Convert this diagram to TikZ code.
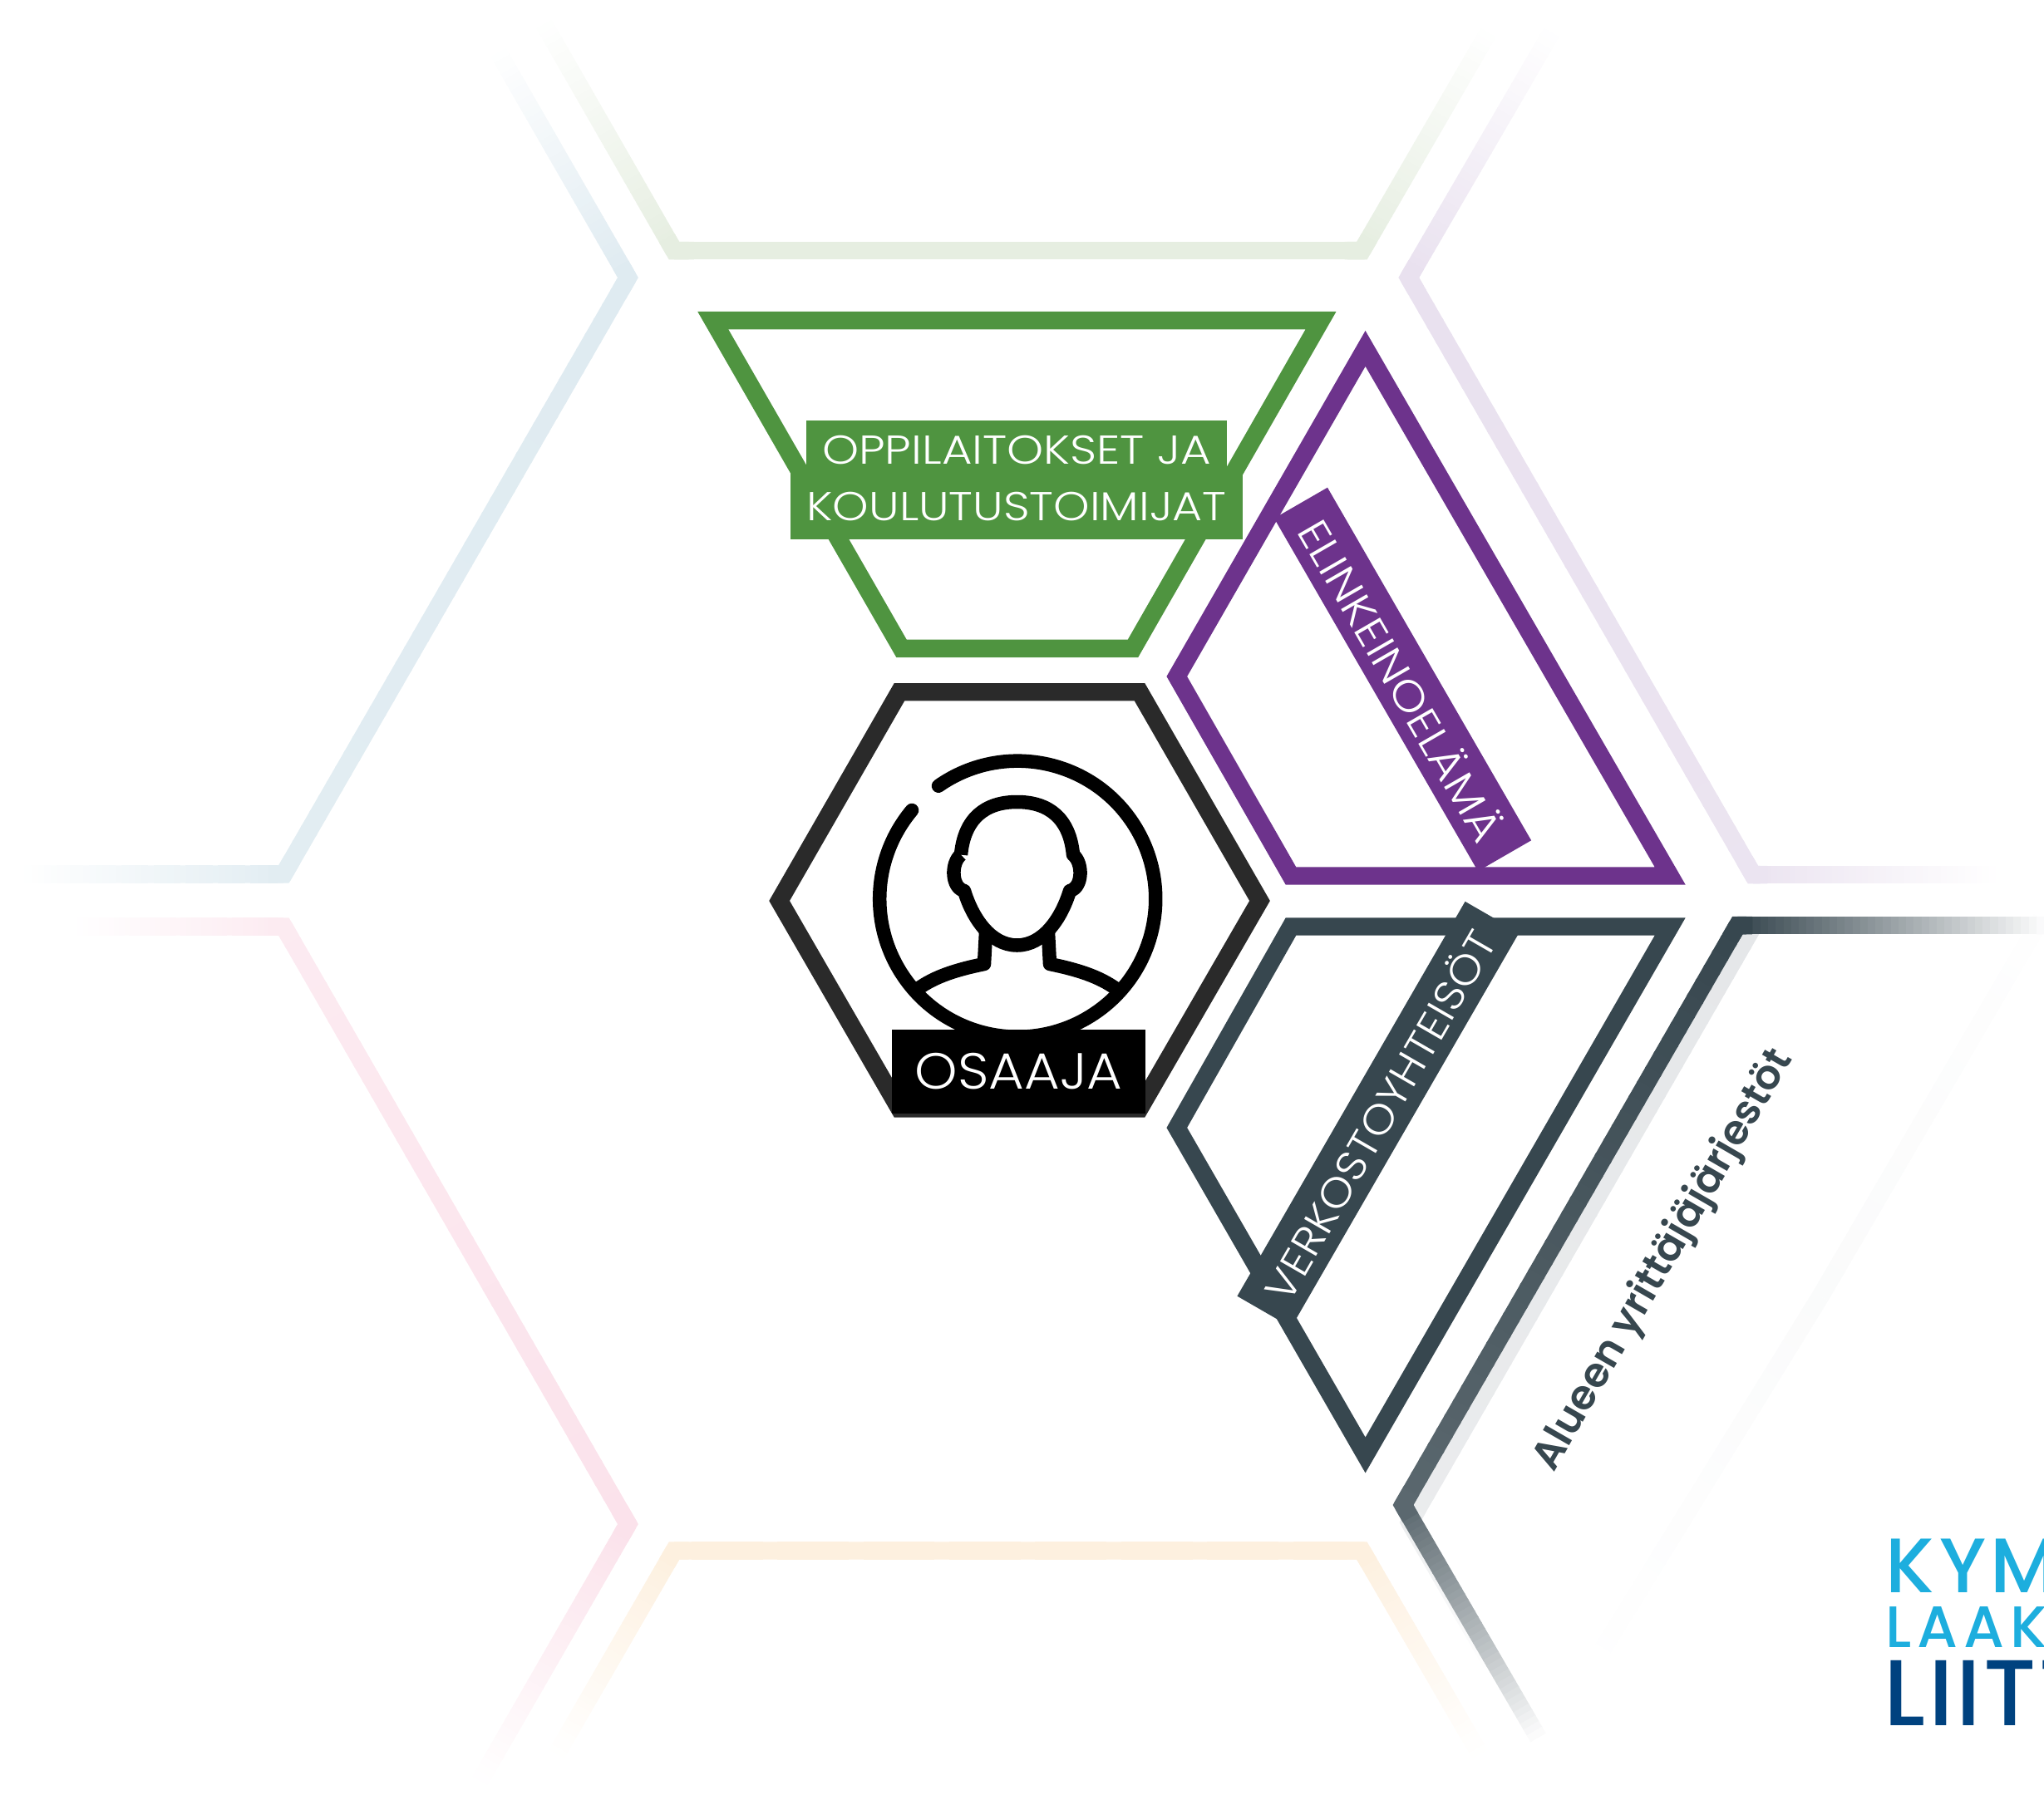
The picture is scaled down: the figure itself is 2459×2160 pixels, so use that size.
\documentclass[tikz,border=0pt]{standalone}
\usepackage{fontspec}
\setmainfont{Poppins}
\newfontfamily\lite{Poppins Light}
\newfontfamily\semi{Poppins SemiBold}
\newfontfamily\medi{Poppins Medium}
\usetikzlibrary{calc}

\definecolor{grn}{HTML}{4F9440}
\definecolor{prp}{HTML}{6D338C}
\definecolor{slt}{HTML}{37474F}
\definecolor{blk}{HTML}{2A2A2A}
\definecolor{pblu}{HTML}{DFEBF1}
\definecolor{ppnk}{HTML}{FBE2EB}
\definecolor{pgrn}{HTML}{E6EEE1}
\definecolor{pprp}{HTML}{E9E1EF}
\definecolor{pyel}{HTML}{FDF0DF}
\definecolor{pgry}{HTML}{E5E7E9}
\definecolor{sky}{HTML}{1DAEDE}
\definecolor{navy}{HTML}{00427F}

\tikzset{
    band/.style={line width=0.214cm,miter limit=10},
    icon/.style={line width=0.165cm,line join=round},
    lab/.style={inner sep=0,text=white,align=center},
    logo/.style={inner sep=0,anchor=base west},
}

\newcommand{\fadeline}[5]{
    \foreach \i in {0,...,39} {
        \pgfmathsetmacro\p{#4+(#5-#4)*\i/40}
        \pgfmathsetmacro\a{\i/40}
        \pgfmathsetmacro\b{(\i+1.15)/40}
        \draw [band,draw=#3!\p!white] ($(#1)!\a!(#2)$) -- ($(#1)!\b!(#2)$);
    }
}
\newcommand{\corner}[5]{
    \draw [band,draw=#4!#5!white] ($(#2)!5pt!(#1)$) -- (#2) -- ($(#2)!5pt!(#3)$);
}

\begin{document}
\begin{tikzpicture}[x=0.01cm,y=-0.01cm]

\useasboundingbox (0,0) rectangle (2459,2160);

\coordinate (b1) at (600,64);
\coordinate (b2) at (755.5,334);
\coordinate (b3) at (341.4,1052);
\coordinate (b4) at (30,1052);

\coordinate (k1) at (94,1115);
\coordinate (k2) at (341.4,1115);
\coordinate (k3) at (755.5,1834);
\coordinate (k4) at (578,2142);

\coordinate (g1) at (655,30);
\coordinate (g2) at (811,301.7);
\coordinate (g3) at (1638.4,301.7);
\coordinate (g4) at (1790,40);

\coordinate (y1) at (670,2110);
\coordinate (y2) at (811,1866);
\coordinate (y3) at (1638.4,1866);
\coordinate (y4) at (1780,2110);

\coordinate (p1) at (1866,40);
\coordinate (p2) at (1694.8,334);
\coordinate (p3) at (2108.9,1052.6);
\coordinate (p4) at (2400,1052.6);

\coordinate (s1) at (2459,1113.6);
\coordinate (s2) at (2090.3,1113.6);
\coordinate (s3) at (1688,1811);
\coordinate (s4) at (1850,2090);

\coordinate (h1) at (2108,1117);
\coordinate (h2) at (1696,1832);
\coordinate (h3) at (1796,2005);

\coordinate (f1) at (2455,1107);
\coordinate (f2) at (2190,1560);
\coordinate (f3) at (1900,2030);

\fadeline{b2}{b1}{pblu}{100}{0}
\fadeline{b2}{b3}{pblu}{100}{90}
\fadeline{b3}{b4}{pblu}{90}{0}
\corner{b1}{b2}{b3}{pblu}{100}
\corner{b2}{b3}{b4}{pblu}{90}

\fadeline{k2}{k1}{ppnk}{70}{0}
\fadeline{k2}{k3}{ppnk}{70}{100}
\fadeline{k3}{k4}{ppnk}{100}{0}
\corner{k1}{k2}{k3}{ppnk}{70}
\corner{k2}{k3}{k4}{ppnk}{100}

\fadeline{g2}{g1}{pgrn}{100}{0}
\fadeline{g2}{g3}{pgrn}{100}{100}
\fadeline{g3}{g4}{pgrn}{100}{0}
\corner{g1}{g2}{g3}{pgrn}{100}
\corner{g2}{g3}{g4}{pgrn}{100}

\fadeline{y2}{y1}{pyel}{100}{0}
\fadeline{y2}{y3}{pyel}{100}{100}
\fadeline{y3}{y4}{pyel}{100}{0}
\corner{y1}{y2}{y3}{pyel}{100}
\corner{y2}{y3}{y4}{pyel}{100}

\fadeline{p2}{p1}{pprp}{100}{0}
\fadeline{p2}{p3}{pprp}{100}{90}
\fadeline{p3}{p4}{pprp}{90}{0}
\corner{p1}{p2}{p3}{pprp}{100}
\corner{p2}{p3}{p4}{pprp}{90}

\fadeline{f2}{f1}{pgry}{18}{4}
\fadeline{f2}{f3}{pgry}{18}{0}

\fadeline{h1}{h2}{pgry}{100}{80}
\fadeline{h2}{h3}{pgry}{70}{0}
\corner{h1}{h2}{h3}{pgry}{75}

\fadeline{s2}{s1}{slt}{100}{0}
\fadeline{s2}{s3}{slt}{100}{82}
\fadeline{s3}{s4}{slt}{82}{0}
\corner{s1}{s2}{s3}{slt}{100}
\corner{s2}{s3}{s4}{slt}{82}

\draw [band,draw=grn] (857.8,385.7) -- (1589,385.7) -- (1363,780.3) -- (1084.5,780.3) -- cycle;

\draw [band,draw=prp] (1642.6,419.4) -- (2009.2,1054) -- (1553,1054) -- (1415.8,814) -- cycle;

\draw [band,draw=slt] (1553,1115) -- (2009.2,1115) -- (1642.6,1751) -- (1415.8,1357) -- cycle;

\draw [band,draw=blk] (1082,832.7) -- (1371,832.7) -- (1515.5,1084) -- (1371,1334) -- (1082,1334) -- (937.6,1084) -- cycle;

\draw [icon,line cap=round] (1129,945.7) arc (-125:220:166);

\draw [icon] (1156,1028.6)
    .. controls (1160,985) and (1185,965) .. (1223.5,965)
    .. controls (1262,965) and (1287,985) .. (1291,1028.6)
    .. controls (1303,1038) and (1303,1068) .. (1287,1072)
    .. controls (1277,1105) and (1255,1137.5) .. (1223.5,1137.5)
    .. controls (1192,1137.5) and (1170,1105) .. (1160,1072)
    .. controls (1144,1068) and (1144,1038) .. (1156,1028.6)
;

\draw [icon] (1186,1122) -- (1184,1160) .. controls (1150,1167) and (1125,1175) .. (1104,1190);
\draw [icon] (1261,1122) -- (1263,1160) .. controls (1297,1167) and (1322,1175) .. (1343,1190);

\node [lab,fill=black,minimum width=3.05cm,minimum height=1.015cm] (osaaja) at (1225.5,1289.3) {\lite\addfontfeature{FakeStretch=1.07}\fontsize{17.4}{20}\selectfont OSAAJA};

\node [fill=grn,inner sep=0,minimum width=5.06cm,minimum height=0.70cm] (opp) at (1223,540.7) {};
\node [lab,fill=grn,minimum width=5.44cm,minimum height=0.79cm] (koul) at (1223,609.5) {\lite\addfontfeature{FakeStretch=1.14}\fontsize{13.8}{16}\selectfont KOULUTUSTOIMIJAT};
\node [lab] (oppt) at (1223,542) {\lite\addfontfeature{FakeStretch=1.155}\fontsize{13.8}{16}\selectfont OPPILAITOKSET JA};

\node [lab,fill=prp,rotate=-60,minimum width=4.9cm,minimum height=0.74cm] (elin) at (1687.5,817.5) {\lite\addfontfeature{FakeStretch=1.115}\fontsize{14.5}{17}\selectfont ELINKEINOELÄMÄ};

\node [lab,fill=slt,rotate=60,minimum width=5.48cm,minimum height=0.75cm] (verk) at (1658,1341) {\lite\addfontfeature{FakeStretch=1.08}\fontsize{14.2}{17}\selectfont VERKOSTOYHTEISÖT};

\node [inner sep=0,rotate=60,text=slt] (alue) at (2002,1517) {\semi\fontsize{14}{16}\selectfont Alueen yrittäjäjärjestöt};

\node [logo,text=sky] (kym) at (2268,1916) {\medi\addfontfeature{LetterSpace=6}\fontsize{26.4}{30}\selectfont KYM};
\node [logo,text=sky] (laaks) at (2268,1982) {\medi\addfontfeature{LetterSpace=9.6}\fontsize{20}{24}\selectfont LAAKS};
\node [logo,text=navy] (liit) at (2266,2076) {\medi\addfontfeature{LetterSpace=3}\fontsize{32}{36}\selectfont LIITT};

\end{tikzpicture}
\end{document}
